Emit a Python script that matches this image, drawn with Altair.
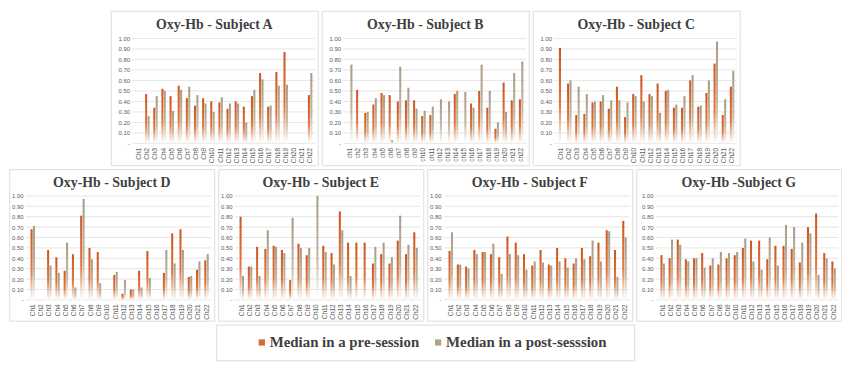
import altair as alt
import pandas as pd

CH_UP = ["Ch1","Ch2","Ch3","Ch4","Ch5","Ch6","Ch7","Ch8","Ch9","Ch10","Ch11","Ch12","Ch13","Ch14","Ch15","Ch16","Ch17","Ch18","Ch19","Ch20","Ch21","Ch22"]
CH_LOW = ["ch1","ch2","ch3","ch4","ch5","ch6","ch7","ch8","ch9","ch10","ch11","ch12","ch13","ch14","ch15","ch16","ch17","ch18","ch19","ch20","ch21","ch22"]
Y_TICKS = [0, 0.1, 0.2, 0.3, 0.4, 0.5, 0.6, 0.7, 0.8, 0.9, 1.0]
SERIES = ["Median in a pre-session", "Median in a post-sesssion"]

A_pre = [None,0.47,0.34,0.52,0.45,0.55,0.43,0.36,0.43,0.40,0.39,0.33,0.40,0.35,0.45,0.67,0.35,0.68,0.87,None,None,0.46]
A_post = [None,0.26,0.45,0.50,0.31,0.51,0.54,0.46,0.38,0.30,0.44,0.38,0.38,0.20,0.51,0.61,0.36,0.55,0.56,None,None,0.67]
B_pre = [None,0.51,0.29,0.37,0.48,0.46,0.40,0.41,0.41,0.26,0.27,None,None,0.47,None,0.38,0.50,0.34,0.14,0.58,0.41,0.42]
B_post = [0.75,None,0.30,0.43,0.46,0.03,0.73,0.53,0.33,0.31,0.35,0.42,0.40,0.50,0.49,0.34,0.75,0.50,0.20,0.30,0.67,0.78]
C_pre = [0.91,0.57,0.27,0.28,0.39,0.40,0.33,0.54,0.25,0.47,0.65,0.47,0.57,0.50,0.34,0.34,0.60,0.35,0.48,0.76,0.27,0.54]
C_post = [None,0.60,0.54,0.47,0.40,0.46,0.41,0.41,0.39,0.45,0.40,0.45,0.29,0.51,0.37,0.45,0.65,0.36,0.60,0.97,0.42,0.69]
D_pre = [0.68,None,0.48,0.41,0.28,0.44,0.81,0.50,0.46,None,0.24,0.06,0.10,0.28,0.47,None,0.26,0.64,0.68,0.22,0.29,0.38]
D_post = [0.71,None,0.33,0.26,0.55,0.12,0.97,0.39,0.16,None,0.27,0.19,0.10,0.12,0.21,None,0.48,0.35,0.48,0.23,0.37,0.44]
E_pre = [0.80,0.32,0.51,0.49,0.52,0.48,0.19,0.54,0.43,None,0.52,0.45,0.85,0.55,0.55,0.55,0.35,0.44,0.35,0.57,0.44,0.65]
E_post = [0.23,0.32,0.23,0.67,0.51,0.45,0.79,0.50,0.50,1.00,0.46,0.34,0.67,0.23,None,None,0.51,0.55,0.41,0.81,0.53,0.50]
F_pre = [0.47,0.34,0.32,0.48,0.46,0.44,0.41,0.61,0.55,0.44,0.33,0.48,0.34,0.50,0.40,0.35,0.50,0.42,0.55,0.67,0.48,0.76]
F_post = [0.65,0.34,0.30,0.44,0.46,0.54,0.25,0.44,0.43,0.29,0.37,0.36,0.33,0.37,0.31,0.40,0.39,0.57,0.37,0.66,0.22,0.60]
G_pre = [0.43,0.40,0.58,0.39,0.40,0.45,0.33,0.34,0.40,0.43,0.50,0.57,0.57,0.39,0.52,0.52,0.49,0.36,0.70,0.83,0.45,0.37]
G_post = [0.35,0.58,0.53,0.37,0.40,0.31,0.40,0.46,0.45,0.46,0.59,0.37,0.29,0.60,0.33,0.72,0.70,0.55,0.64,0.24,0.40,0.30]

PRE_COLOR = "#D86A33"
POST_COLOR = "#B2A58F"
GRAD_PRE = {"gradient": "linear", "x1": 0, "x2": 0, "y1": 0, "y2": 1,
            "stops": [{"offset": 0, "color": "#CB5620"}, {"offset": 0.6, "color": "#E0783F"}, {"offset": 1, "color": "#FFFFFF"}]}
GRAD_POST = {"gradient": "linear", "x1": 0, "x2": 0, "y1": 0, "y2": 1,
             "stops": [{"offset": 0, "color": "#A99B84"}, {"offset": 0.6, "color": "#C4B8A5"}, {"offset": 1, "color": "#FFFFFF"}]}

TITLE_FONT = "Liberation Serif"
LABEL_FONT = "Liberation Sans"


def panel(title, labels, pre, post, w, h, y_zero, y_one, x_start, x_end):
    rows = []
    for i, ch in enumerate(labels):
        rows.append({"ch": ch, "s": "pre", "v": pre[i]})
        rows.append({"ch": ch, "s": "post", "v": post[i]})
    df = pd.DataFrame(rows)

    yscale = alt.Scale(domain=[0, 1], range=[y_zero, y_one], nice=False)
    yaxis = alt.Axis(values=Y_TICKS, title=None, domain=False, ticks=False, grid=False,
                     offset=-(x_start - 2), labelPadding=3, labelFontSize=6, labelColor="#595959",
                     labelFont=LABEL_FONT,
                     labelExpr="datum.value == 0 ? '-' : format(datum.value, '.2f')")
    xenc = alt.X("ch:N", sort=labels,
                 scale=alt.Scale(domain=labels, range=[x_start, x_end], paddingInner=0.45, paddingOuter=0.3),
                 axis=alt.Axis(title=None, labelAngle=270, offset=-(h - y_zero), domain=False, ticks=False,
                               labelFontSize=6.5, labelPadding=4, labelColor="#595959", labelFont=LABEL_FONT,
                               labelOverlap=False, grid=False))
    xoff = alt.XOffset("s:N", scale=alt.Scale(domain=["pre", "post"], paddingInner=0.15))

    grid = alt.Chart(pd.DataFrame({"v": Y_TICKS})).mark_rule(color="#D9D9D9", strokeWidth=0.7).encode(
        y=alt.Y("v:Q", scale=yscale, axis=yaxis),
        x=alt.value(x_start - 2), x2=alt.value(w - 3))

    base = alt.Chart(df)
    bars_pre = base.transform_filter("datum.s == 'pre'").mark_bar(color=GRAD_PRE).encode(
        x=xenc, xOffset=xoff, y=alt.Y("v:Q", scale=yscale, axis=yaxis))
    bars_post = base.transform_filter("datum.s == 'post'").mark_bar(color=GRAD_POST).encode(
        x=xenc, xOffset=xoff, y=alt.Y("v:Q", scale=yscale, axis=yaxis))

    ttl = alt.Chart(pd.DataFrame({"t": [title]})).mark_text(
        font=TITLE_FONT, fontSize=14, fontWeight="bold", color="#404040", baseline="middle").encode(
        text="t:N", x=alt.value(w / 2), y=alt.value(14))

    return alt.layer(grid, bars_pre, bars_post, ttl).properties(width=w, height=h)


TW, TH = 209, 156
BW, BH = 207, 153

top = alt.hconcat(
    panel("Oxy-Hb - Subject A", CH_UP, A_pre, A_post, TW, TH, 134, 28, 24, 206),
    panel("Oxy-Hb - Subject B", CH_LOW, B_pre, B_post, TW, TH, 134, 28, 24, 206),
    panel("Oxy-Hb - Subject C", CH_UP, C_pre, C_post, TW, TH, 134, 28, 24, 206),
    spacing=2)

bottom = alt.hconcat(
    panel("Oxy-Hb - Subject D", CH_UP, D_pre, D_post, BW, BH, 132, 27, 19, 204),
    panel("Oxy-Hb - Subject E", CH_UP, E_pre, E_post, BW, BH, 132, 27, 19, 204),
    panel("Oxy-Hb - Subject F", CH_UP, F_pre, F_post, BW, BH, 132, 27, 19, 204),
    panel("Oxy-Hb -Subject G", CH_UP, G_pre, G_post, BW, BH, 132, 27, 22, 204),
    spacing=2)

leg_df = pd.DataFrame({"item": SERIES})
lx = alt.X("item:N", sort=SERIES, scale=alt.Scale(domain=SERIES, range=[46, 224], padding=0), axis=None)
lcol = alt.Color("item:N", scale=alt.Scale(domain=SERIES, range=[PRE_COLOR, POST_COLOR]), legend=None)
leg_sq = alt.Chart(leg_df).mark_square(size=40, opacity=1).encode(x=lx, y=alt.value(18), color=lcol)
leg_tx = alt.Chart(leg_df).mark_text(align="left", dx=8, font=TITLE_FONT, fontSize=15, fontWeight="bold",
                                     color="#404040", baseline="middle").encode(x=lx, y=alt.value(18), text="item:N")
legend = alt.layer(leg_sq, leg_tx).properties(width=422, height=36)

chart = alt.vconcat(top, bottom, legend, spacing=2, center=True).properties(padding=0).configure_view(
    stroke="#D0D0D0", strokeWidth=1).configure(background="white")

chart.save("out.html", embed_options={"renderer": "svg", "actions": False})
